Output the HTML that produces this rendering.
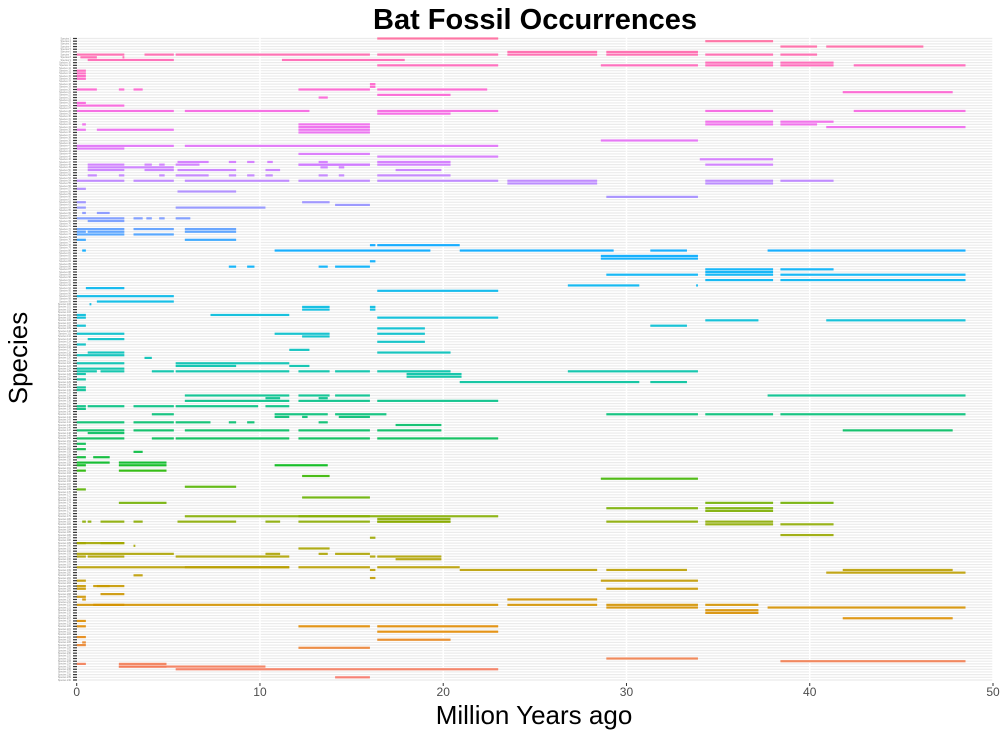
<!DOCTYPE html>
<html><head><meta charset="utf-8"><style>
html,body{margin:0;padding:0;background:#fff;}
svg{display:block;font-family:"Liberation Sans",sans-serif;}
</style></head><body>
<svg id="chart" width="1000" height="734">
<text x="535" y="29" text-anchor="middle" font-size="29" font-weight="bold" fill="#000">Bat Fossil Occurrences</text>
<text x="534" y="724" text-anchor="middle" font-size="26" fill="#000">Million Years ago</text>
<text transform="translate(27,358) rotate(-90)" text-anchor="middle" font-size="26" fill="#000">Species</text>
<g id="grid"></g>
<g id="marks"></g>
<g id="axes"></g>
</svg>
<script>
const xTicks=[0,10,20,30,40,50];
const nSpecies=240;
const segRows=[0,1,3,3,5,5,6,6,6,6,6,6,6,6,7,7,8,8,9,9,10,10,10,10,10,12,13,14,15,17,18,19,19,19,19,19,20,22,21,24,25,27,27,27,27,27,28,31,31,32,32,32,32,33,33,34,34,34,35,38,40,40,41,43,44,45,46,46,46,46,46,46,47,47,47,47,47,47,47,47,48,48,48,49,49,49,49,49,51,51,51,51,51,51,51,51,51,51,53,53,53,53,53,53,53,53,54,54,56,57,59,61,61,62,63,63,65,65,67,67,67,67,67,68,71,71,71,72,72,72,73,73,75,75,77,77,79,79,79,79,79,81,82,83,85,85,85,85,86,86,87,88,88,88,90,90,92,92,93,94,96,98,99,100,100,101,101,103,103,104,104,105,105,107,107,108,110,110,110,111,112,113,114,116,117,117,118,119,121,121,122,122,123,124,124,124,124,124,124,124,124,125,125,126,127,128,128,130,131,133,133,133,133,134,134,135,135,135,137,137,137,137,137,138,140,140,140,140,140,140,141,141,141,143,143,143,143,143,143,144,146,146,146,146,146,146,147,149,149,149,149,149,151,153,154,156,156,158,158,159,159,159,161,161,163,164,167,168,171,173,173,173,175,175,176,178,178,179,180,180,180,180,180,180,180,180,180,180,180,181,181,185,186,188,188,188,189,190,192,192,192,192,193,193,193,193,193,194,197,197,197,197,198,198,198,198,199,200,201,202,202,204,204,204,205,205,207,208,209,209,211,211,211,211,211,212,212,213,214,216,217,219,219,219,221,223,224,225,226,227,231,232,233,233,234,234,235,238];
const segStart=[16.4,34.3,38.4,40.9,23.5,28.9,0,3.7,5.4,16.4,23.5,28.9,34.3,38.4,0.2,2.5,0.6,11.2,34.3,38.4,16.4,28.6,34.3,38.4,42.4,0,0,0,0,16.0,16.0,0,2.3,3.1,12.1,16.4,41.8,13.2,16.4,0,0,0,5.9,16.4,34.3,42.4,16.4,34.3,38.4,0.3,12.1,34.3,38.4,12.1,40.9,0,1.1,12.1,12.1,28.6,0,5.9,0,12.1,16.4,34.0,5.5,8.3,9.3,10.4,13.2,16.4,0.6,3.7,4.5,5.4,12.1,16.4,34.3,12.1,0.6,13.3,14.3,0.6,3.7,5.5,10.3,17.4,0.6,2.3,4.5,5.4,8.3,9.3,10.3,13.2,14.3,16.4,0,3.1,5.9,12.1,16.4,23.5,34.3,38.4,23.5,34.3,0,5.5,28.9,0,12.3,14.1,0,5.4,0.3,1.1,0,3.1,3.8,4.5,5.4,0.6,0,3.1,5.9,0,0.6,5.9,0,3.1,0,5.9,16.0,16.4,0.3,10.8,20.9,31.3,37.7,28.6,28.6,16.0,8.3,9.3,13.2,14.1,34.3,38.4,34.3,28.9,34.3,38.4,34.3,38.4,26.8,33.8,0.5,16.4,0,1.1,0.7,12.3,16.0,12.3,16.0,0,7.3,0,16.4,34.3,40.9,0,31.3,16.4,0,16.4,10.8,12.3,0.6,16.4,0,11.6,0.6,16.4,0,3.7,0,5.4,5.4,11.6,0,0,1.3,4.1,5.4,12.1,14.1,16.4,26.8,0,18.0,18.0,0,20.9,31.3,0,0,5.9,12.1,14.1,37.7,10.3,13.2,5.9,12.1,16.4,0,0.6,3.1,5.4,10.3,0,4.1,10.8,14.1,28.9,34.3,38.4,10.8,12.3,14.3,0,3.1,5.4,8.3,9.3,13.2,17.4,0,3.1,5.9,12.1,16.4,41.8,0.6,0,4.1,5.4,12.1,16.4,0,0,3.1,0,0.9,0,2.3,0,2.3,10.8,0,2.3,12.3,28.6,5.9,0,12.3,2.3,34.3,38.4,28.9,34.3,34.3,5.9,12.1,16.4,16.4,0.3,0.6,1.3,3.1,5.5,10.3,12.1,16.4,28.9,34.3,38.4,34.3,38.4,16.0,0,0,1.3,3.1,12.1,0,10.3,13.2,14.1,16.4,0,0.6,5.4,16.0,17.4,0,5.9,12.1,16.4,41.8,16.0,20.9,28.9,40.9,3.1,16.0,28.6,0,1.1,0,0.9,28.9,0,1.3,0,23.5,0.3,0.9,0,23.5,28.9,34.3,37.7,28.9,34.3,34.3,41.8,0,16.4,0,12.1,16.4,0,16.4,0.3,0,12.1,28.9,38.4,2.3,0,2.3,2.3,5.4,14.1,34.3];
const segEnd=[23.0,38.0,40.4,46.2,28.4,33.9,2.6,5.3,16.0,23.0,28.4,33.9,38.0,40.4,1.1,2.6,5.3,17.9,38.0,41.3,23.0,33.9,38.0,41.3,48.5,0.5,0.5,0.5,0.5,16.3,16.3,1.1,2.6,3.6,16.0,22.4,47.8,13.7,20.4,0.5,2.6,5.3,12.7,23.0,38.0,48.5,20.4,38.0,41.3,0.5,16.0,38.0,40.4,16.0,48.5,0.5,5.3,16.0,16.0,33.9,5.3,23.0,2.6,16.0,23.0,38.0,7.2,8.7,9.7,10.7,13.7,20.4,2.6,4.1,4.8,6.7,16.0,20.4,38.0,16.0,5.3,13.7,14.6,2.6,5.3,8.7,11.1,19.9,1.1,2.6,4.8,7.2,8.7,9.7,10.7,13.7,14.6,20.4,2.6,5.3,11.6,16.0,23.0,28.4,38.0,41.3,28.4,38.0,0.5,8.7,33.9,0.5,13.8,16.0,0.5,10.3,0.5,1.8,2.6,3.6,4.1,4.8,6.2,2.6,2.6,5.3,8.7,0.5,2.6,8.7,2.6,5.3,0.5,8.7,16.3,20.9,0.5,19.3,29.3,33.3,48.5,33.9,33.9,16.3,8.7,9.7,13.7,16.0,38.0,41.3,38.0,33.9,38.0,48.5,38.0,48.5,30.7,33.9,2.6,23.0,5.3,5.3,0.8,13.8,16.3,13.8,16.3,0.5,11.6,0.5,23.0,37.2,48.5,0.5,33.3,19.0,2.6,19.0,13.8,13.8,2.6,19.0,0.5,12.7,2.6,20.4,2.6,4.1,2.6,11.6,8.7,12.7,2.6,1.1,2.6,5.3,11.6,13.8,16.0,20.4,33.9,0.5,21.0,21.0,0.5,30.7,33.3,0.5,0.5,11.6,13.8,16.0,48.5,11.1,13.7,11.6,16.0,23.0,0.5,2.6,5.3,9.9,11.6,0.5,5.3,13.7,16.9,33.9,38.0,48.5,11.6,12.6,16.0,2.6,5.3,7.3,8.7,9.7,13.7,19.9,2.6,5.3,11.6,16.0,19.9,47.8,2.6,2.6,5.3,11.6,16.0,23.0,0.5,0.5,3.6,0.5,1.8,1.8,4.9,0.5,4.9,13.7,0.5,4.9,13.8,33.9,8.7,0.5,16.0,4.9,38.0,41.3,33.9,38.0,38.0,23.0,16.0,20.4,20.4,0.5,0.8,2.6,3.6,8.7,11.1,16.0,20.4,33.9,38.0,41.3,38.0,41.3,16.3,2.6,0.5,2.6,3.2,13.8,5.3,11.1,13.7,16.0,19.9,0.5,2.6,11.6,16.3,19.9,11.6,11.6,16.0,20.9,47.8,16.3,28.4,33.3,48.5,3.6,16.3,33.9,0.5,2.6,0.5,1.8,33.9,0.5,2.6,0.5,28.4,0.5,2.6,23.0,28.4,33.9,37.2,48.5,33.9,37.2,37.2,47.8,0.5,23.0,0.5,16.0,23.0,0.5,20.4,0.5,0.5,16.0,33.9,48.5,4.9,0.5,10.3,4.9,23.0,16.0,38.0];
const speciesNames=[];for(let i=0;i<nSpecies;i++)speciesNames.push("Species "+(i+1));

const NS="http://www.w3.org/2000/svg";
const L=76.7,R=993,T=38.5,B=680;
const xs=v=>L+(v/50)*(R-L);
const rowH=(B-T)/(nSpecies-1);
const ys=r=>T+r*rowH;
const hue=r=>15+340*(1-r/(nSpecies-1));
function hcl(h,c,l){
 const hr=h*Math.PI/180;const U=c*Math.cos(hr),V=c*Math.sin(hr);
 const Xn=95.047,Yn=100,Zn=108.883;
 const un=4*Xn/(Xn+15*Yn+3*Zn),vn=9*Yn/(Xn+15*Yn+3*Zn);
 const Y=l>8?Yn*Math.pow((l+16)/116,3):Yn*l/903.3;
 const u=U/(13*l)+un,v=V/(13*l)+vn;
 const X=9*Y*u/(4*v),Z=-X/3-5*Y+3*Y/v;
 const x=X/100,y=Y/100,z=Z/100;
 let r=3.2406*x-1.5372*y-0.4986*z,g=-0.9689*x+1.8758*y+0.0415*z,b=0.0557*x-0.2040*y+1.0570*z;
 const gm=t=>{t=t<=0.0031308?12.92*t:1.055*Math.pow(t,1/2.4)-0.055;return Math.round(255*Math.min(1,Math.max(0,t)));};
 return 'rgb('+gm(r)+','+gm(g)+','+gm(b)+')';
}
function mk(tag,attrs,parent){const e=document.createElementNS(NS,tag);for(const k in attrs)e.setAttribute(k,attrs[k]);parent.appendChild(e);return e;}
const grid=document.getElementById('grid'),marks=document.getElementById('marks'),axes=document.getElementById('axes');
for(let i=0;i<nSpecies;i++){
 const ln=mk('line',{x1:L-2,x2:R,y1:ys(i),y2:ys(i),stroke:'#ebebeb','stroke-width':1.2},grid);
 
 
 const tk=mk('line',{x1:73,x2:77,y1:ys(i),y2:ys(i),stroke:'#333','stroke-width':1.2},axes);
 
 
 const t=mk('text',{x:71,y:ys(i)+0.8,'text-anchor':'end','font-size':2.4,fill:'#888'},axes);
 t.textContent=speciesNames[i];
 
 
}
xTicks.forEach(v=>{
 const g=mk('line',{x1:xs(v),x2:xs(v),y1:T-3,y2:B+3,stroke:'#fff','stroke-width':1.5},grid);
 
 
 const tk=mk('line',{x1:xs(v),x2:xs(v),y1:B+3,y2:B+6,stroke:'#333','stroke-width':1},axes);
 
 
 const t=mk('text',{x:xs(v),y:696,'text-anchor':'middle','font-size':12,fill:'#4d4d4d'},axes);
 t.textContent=v;
 
 
});
for(let i=0;i<segRows.length;i++){
 const r=segRows[i];
 const rc=mk('rect',{x:xs(segStart[i]),y:ys(r)-1.1,width:Math.max(1,xs(segEnd[i])-xs(segStart[i])),height:2.2,fill:hcl(hue(r),100,65),'fill-opacity':0.9},marks);
 
 
}
</script>
</body></html>
